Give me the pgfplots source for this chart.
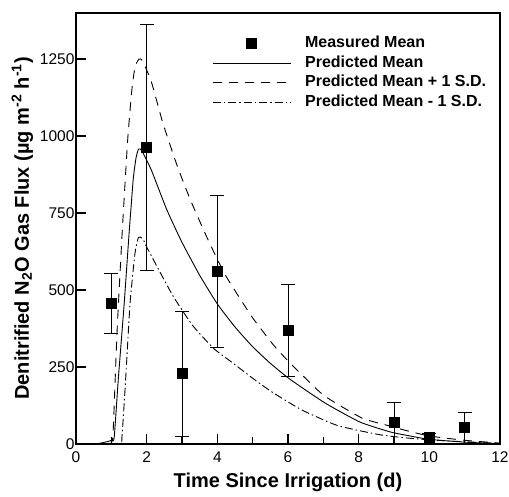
\documentclass[border=0pt]{standalone}
\usepackage{fontspec}
\setmainfont{Liberation Sans}
\usepackage{pgfplots}
\pgfplotsset{compat=1.18}
\usetikzlibrary{calc}

% measured means with asymmetric error bars
\pgfplotstableread{
x   y    ep   em
1   458  97   98
2   964  400  399
3   230  199  204
4   562  246  250
6   370  149  149
9   71   65   71
10  23   12   23
11  55   49   55
}\measured

\begin{document}
\begin{tikzpicture}
\begin{axis}[
    scale only axis,
    width=424pt, height=431pt,
    xmin=0, xmax=12, ymin=0, ymax=1400,
    xtick={0,2,...,12}, minor x tick num=1,
    ytick={0,250,...,1250},
    xtick pos=left, ytick pos=left,
    tick align=inside,
    major tick length=10pt, minor tick length=7pt,
    every tick/.style={black, line width=1.5pt},
    axis line style={line width=1.8pt},
    /pgf/number format/assume math mode=true,
    /pgf/number format/1000 sep={},
    tick label style={font=\fontsize{15.5}{15.5}\selectfont},
    yticklabel style={xshift=2pt},
    xticklabel style={yshift=-4pt},
    xlabel={Time Since Irrigation (d)},
    ylabel={Denitrified N\textsubscript{2}O Gas Flux (µg m\textsuperscript{-2} h\textsuperscript{-1})},
    label style={font=\fontsize{20}{22}\selectfont\bfseries},
    xlabel style={yshift=-4pt},
    ylabel style={yshift=0pt},
    legend image code/.code={\draw[#1] (0pt,0pt) -- (78pt,0pt);},
    legend cell align=left,
    legend style={draw=none, fill=none, at={(0.3208,0.948)}, anchor=north west,
        inner sep=0pt, column sep=14pt, row sep=3.5pt,
        font=\fontsize{16}{19}\selectfont\bfseries,
        nodes={inner sep=0pt, text height=12pt, text depth=4pt}},
]
\addlegendimage{legend image code/.code={\fill[black] (34pt,-5pt) rectangle (44pt,5pt);}}
\addlegendentry{Measured Mean}

\addplot[black, line width=0.9pt, smooth, tension=0.3] coordinates {
(0,0) (0.5,0) (0.7,3) (0.9,8) (1.0,12) (1.08,20) (1.2,215) (1.36,450)
(1.5,680) (1.62,860) (1.7,930) (1.77,958) (1.85,955) (2.0,922) (2.15,885)
(2.57,761) (3.0,655) (3.5,548) (4.0,455) (4.5,380) (5.0,316) (5.5,262)
(6.06,210) (7.05,133) (8.04,71) (8.9,39) (9.5,25) (10,15) (11,6) (12,1)
};
\addlegendentry{Predicted Mean}

\addplot[black, line width=0.9pt, dash pattern=on 9pt off 7pt, smooth, tension=0.3] coordinates {
(0,0) (0.9,0) (1.0,5) (1.05,36) (1.16,360) (1.3,672) (1.4,870) (1.47,1000)
(1.58,1150) (1.67,1225) (1.78,1250) (1.86,1248) (2.0,1215) (2.15,1170)
(2.46,1042) (2.86,905) (3.23,795) (3.71,670) (4.22,550) (4.98,413) (5.6,320)
(6.06,263) (7.0,159) (8.1,84) (8.9,58) (9.3,45) (10,26) (11,12) (12,3)
};
\addlegendentry{Predicted Mean + 1 S.D.}

\addplot[black, line width=0.9pt, dash pattern=on 8pt off 3pt on 1.5pt off 3pt, smooth, tension=0.3] coordinates {
(0,0) (1.22,0) (1.3,23) (1.4,200) (1.53,458) (1.67,620) (1.76,669) (1.82,672)
(1.9,665) (2.0,640) (2.3,575) (2.75,480) (3.3,385) (3.9,310) (4.45,262)
(5.1,205) (5.6,165) (6.4,110) (7.4,60) (8.6,30) (9.5,18) (10.5,10) (12,2)
};
\addlegendentry{Predicted Mean - 1 S.D.}

\addplot[forget plot, only marks, mark=square*, mark size=5pt, black,
    error bars/.cd, y dir=both, y explicit,
    error bar style={line width=0.9pt},
    error mark options={rotate=90, mark size=7pt, line width=0.9pt}]
    table[x=x, y=y, y error plus=ep, y error minus=em] {\measured};
\end{axis}
\pgfresetboundingbox
\path ($(current axis.south west)+(-76pt,-53pt)$) rectangle ($(current axis.north east)+(9pt,13pt)$);
\end{tikzpicture}
\end{document}
